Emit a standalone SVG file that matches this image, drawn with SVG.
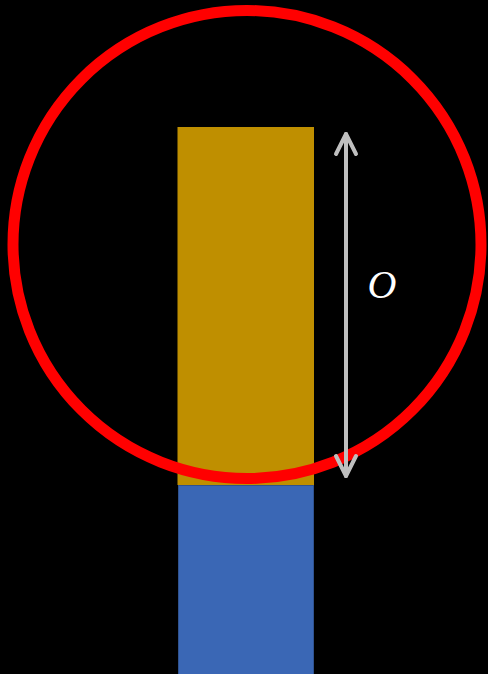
<svg xmlns="http://www.w3.org/2000/svg" width="488" height="674" viewBox="0 0 488 674">
  <style>
    .arrow { stroke: #BFBFBF; stroke-width: 4; fill: none; stroke-linecap: round; stroke-linejoin: round; }
    .label { font-family: "Liberation Serif", "DejaVu Serif", serif; font-style: italic; font-size: 40px; fill: #FFFFFF; }
  </style>
  <rect x="0" y="0" width="488" height="674" fill="#000000"/>
  <g id="gold-bar">
    <rect x="177.5" y="127" width="136.5" height="358" fill="#BF8F00"/>
  </g>
  <g id="blue-bar">
    <rect x="178.5" y="485.5" width="135" height="189" fill="#3A67B5" stroke="#2F528F" stroke-width="1"/>
  </g>
  <g id="circle">
    <circle cx="247" cy="244.5" r="234" fill="none" stroke="#FF0000" stroke-width="11"/>
  </g>
  <g id="connectors">
    <line class="arrow" x1="346" y1="134" x2="346" y2="476"/>
    <polyline class="arrow" points="336,154 346,134 356,154"/>
    <polyline class="arrow" points="336,456 346,476 356,456"/>
  </g>
  <g id="label-O">
    <text class="label" x="382" y="298" text-anchor="middle">O</text>
  </g>
</svg>
